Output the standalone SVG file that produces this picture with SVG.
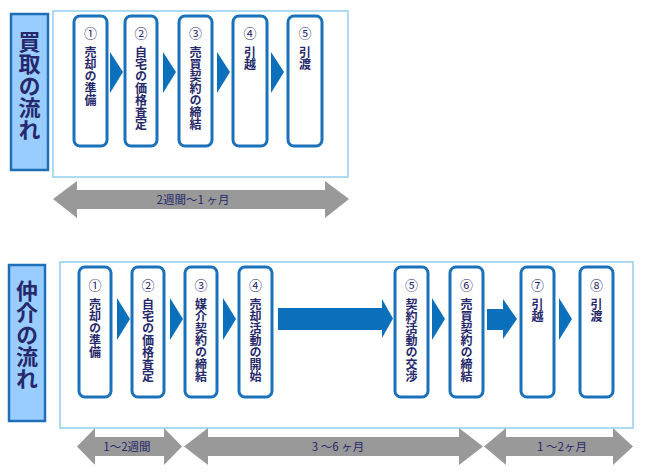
<svg xmlns="http://www.w3.org/2000/svg" width="650" height="473" viewBox="0 0 650 473">
<defs>
<style>
.title{fill:#99ccff;stroke:#1f6fb6;stroke-width:2.5}
.ttext{font-family:"Noto Sans CJK JP","Noto Sans",sans-serif;font-size:22px;font-weight:bold;fill:#25286a;writing-mode:vertical-rl}
.frame{fill:#ffffff;stroke:#8fd0ee;stroke-width:1.5}
.card{fill:#ffffff;stroke:#1b72ba;stroke-width:3}
.num{font-family:"Noto Sans CJK JP",sans-serif;font-size:13px;fill:#25286a;text-anchor:middle}
.lbl{font-family:"Noto Sans CJK JP",sans-serif;font-size:12px;font-weight:bold;fill:#25286a;writing-mode:vertical-rl}
.chev{fill:#0a70bc}
.gray{fill:#999999}
.dur{font-family:"Noto Sans CJK JP","Noto Sans",sans-serif;font-size:11.5px;fill:#25286a;text-anchor:middle}
</style>
</defs>

<!-- Top section -->
<g id="title-kaitori">
<rect class="title" x="11" y="14" width="37" height="156"/>
<text class="ttext" x="29.5" y="31">買取の流れ</text>
</g>
<rect class="frame" x="53" y="11" width="295" height="166"/>

<g id="k1"><rect class="card" x="74" y="16" width="33" height="130" rx="6"/><text class="num" x="90.5" y="38">①</text><text class="lbl" x="90.5" y="46">売却の準備</text></g>
<g id="k2"><rect class="card" x="125" y="16" width="32" height="130" rx="6"/><text class="num" x="141" y="38">②</text><text class="lbl" x="141" y="46">自宅の価格査定</text></g>
<g id="k3"><rect class="card" x="179" y="16" width="33" height="130" rx="6"/><text class="num" x="195.5" y="38">③</text><text class="lbl" x="195.5" y="46">売買契約の締結</text></g>
<g id="k4"><rect class="card" x="233" y="16" width="34" height="130" rx="6"/><text class="num" x="250" y="38">④</text><text class="lbl" x="250" y="46">引越</text></g>
<g id="k5"><rect class="card" x="288" y="16" width="34" height="130" rx="6"/><text class="num" x="305" y="38">⑤</text><text class="lbl" x="305" y="46">引渡</text></g>

<g id="connectors-top">
<polygon class="chev" points="110,52 123,72 110,93"/>
<polygon class="chev" points="163,52 176,72 163,93"/>
<polygon class="chev" points="217,52 230,72 217,93"/>
<polygon class="chev" points="271,52 284,72 271,93"/>
</g>

<g id="dur-top">
<polygon class="gray" points="53,199 77,181 77,190 325,190 325,181 349,199 325,218 325,209 77,209 77,218"/>
<text class="dur" x="193" y="204">2週間～1 ヶ月</text>
</g>

<!-- Bottom section -->
<g id="title-chukai">
<rect class="title" x="9" y="265" width="36" height="156"/>
<text class="ttext" x="27" y="280">仲介の流れ</text>
</g>
<rect class="frame" x="60" y="262" width="573" height="166"/>

<g id="c1"><rect class="card" x="79" y="267" width="32" height="130" rx="6"/><text class="num" x="95" y="290">①</text><text class="lbl" x="95" y="298">売却の準備</text></g>
<g id="c2"><rect class="card" x="132" y="267" width="32" height="130" rx="6"/><text class="num" x="148" y="290">②</text><text class="lbl" x="148" y="298">自宅の価格査定</text></g>
<g id="c3"><rect class="card" x="185" y="267" width="32" height="130" rx="6"/><text class="num" x="201" y="290">③</text><text class="lbl" x="201" y="298">媒介契約の締結</text></g>
<g id="c4"><rect class="card" x="239" y="267" width="33" height="130" rx="6"/><text class="num" x="255.5" y="290">④</text><text class="lbl" x="255.5" y="298">売却活動の開始</text></g>
<g id="c5"><rect class="card" x="395" y="267" width="33" height="130" rx="6"/><text class="num" x="411.5" y="290">⑤</text><text class="lbl" x="411.5" y="298">契約活動の交渉</text></g>
<g id="c6"><rect class="card" x="450" y="267" width="33" height="130" rx="6"/><text class="num" x="466.5" y="290">⑥</text><text class="lbl" x="466.5" y="298">売買契約の締結</text></g>
<g id="c7"><rect class="card" x="521" y="267" width="33" height="130" rx="6"/><text class="num" x="537.5" y="290">⑦</text><text class="lbl" x="537.5" y="298">引越</text></g>
<g id="c8"><rect class="card" x="580" y="267" width="33" height="130" rx="6"/><text class="num" x="596.5" y="290">⑧</text><text class="lbl" x="596.5" y="298">引渡</text></g>

<g id="connectors-bottom">
<polygon class="chev" points="117,298 130,319 117,340"/>
<polygon class="chev" points="170,298 183,319 170,340"/>
<polygon class="chev" points="223,298 236,319 223,340"/>
<polygon class="chev" points="278,308 382,308 382,299 393,318.5 382,338 382,330 278,330"/>
<polygon class="chev" points="432,298 445,319 432,340"/>
<polygon class="chev" points="487,309 503,309 503,299 517,319 503,339 503,330 487,330"/>
<polygon class="chev" points="559,298 572,319 559,340"/>
</g>

<g id="dur-bottom">
<polygon class="gray" points="77,446.5 95,428 95,437 164,437 164,428 182,446.5 164,465 164,456 95,456 95,465"/>
<text class="dur" x="127" y="451">1～2週間</text>
<polygon class="gray" points="184,446.5 208,428 208,437 459,437 459,428 483,446.5 459,465 459,456 208,456 208,465"/>
<text class="dur" x="338" y="451">3 ～6 ヶ月</text>
<polygon class="gray" points="484,446.5 506,428 506,437 613,437 613,428 633,446.5 613,465 613,456 506,456 506,465"/>
<text class="dur" x="562" y="451">1 ～2ヶ月</text>
</g>
</svg>
